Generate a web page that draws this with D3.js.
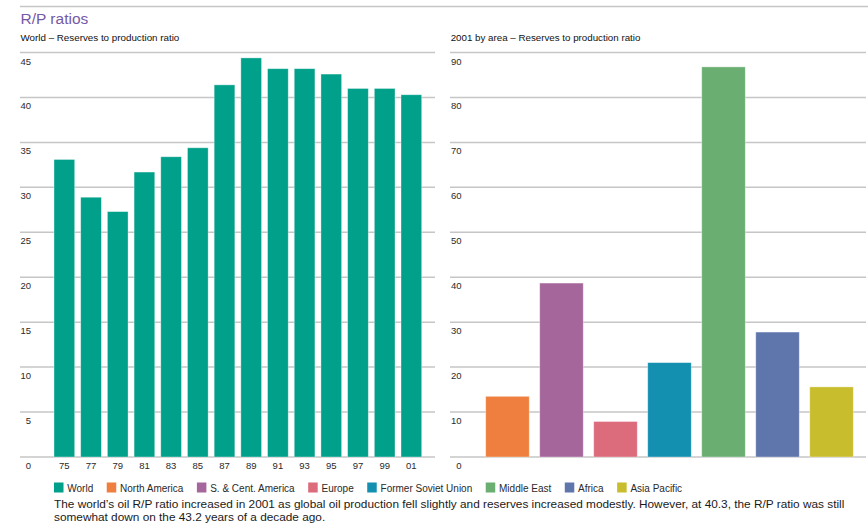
<!DOCTYPE html>
<html>
<head>
<meta charset="utf-8">
<script src="https://cdn.jsdelivr.net/npm/d3@7"></script>
<style>
  html, body { margin: 0; padding: 0; background: #fff; }
  svg { display: block; font-family: "Liberation Sans", Arial, Helvetica, sans-serif; }
</style>
</head>
<body>
<svg id="chart" width="868" height="524"></svg>
<script>
// ---------- data ----------
const years = ["75","77","79","81","83","85","87","89","91","93","95","97","99","01"];
const worldRP = [33.1, 28.9, 27.3, 31.7, 33.4, 34.4, 41.4, 44.4, 43.2, 43.2, 42.6, 41.0, 41.0, 40.3];

const areas = ["North America","S. & Cent. America","Europe","Former Soviet Union","Middle East","Africa","Asia Pacific"];
const areaRP = [13.5, 38.7, 7.9, 21.0, 86.8, 27.8, 15.6];

const worldTicks = [0,5,10,15,20,25,30,35,40,45];
const areaTicks = [0,10,20,30,40,50,60,70,80,90];

const legendNames = ["World","North America","S. & Cent. America","Europe","Former Soviet Union","Middle East","Africa","Asia Pacific"];
const legendColors = ["#00a08a","#ef7f3e","#a5669b","#dc6b7c","#138fb0","#6aae72","#5f76ad","#c8bd2c"];

const titleText = "R/P ratios";
const leftSubtitle = "World \u2013 Reserves to production ratio";
const rightSubtitle = "2001 by area \u2013 Reserves to production ratio";
const captionLines = [
  "The world\u2019s oil R/P ratio increased in 2001 as global oil production fell slightly and reserves increased modestly. However, at 40.3, the R/P ratio was still",
  "somewhat down on the 43.2 years of a decade ago."
];

// ---------- layout ----------
const svg = d3.select("#chart");
const gridColor = "#c6c6c6";
const textColor = "#2a2a2a";
const y0 = 457, yTop = 52.5;

// top rule
svg.append("line").attr("x1", 20).attr("x2", 868).attr("y1", 6.5).attr("y2", 6.5)
  .attr("stroke", gridColor).attr("stroke-width", 1.5);

// title
svg.append("text").attr("x", 20.5).attr("y", 24).text(titleText)
  .attr("font-size", 15.5).attr("fill", "#7559a6");

function fitText(sel, width, base) {
  sel.attr("font-size", base);
  const len = sel.node().getComputedTextLength();
  sel.attr("font-size", base * width / len);
}

fitText(svg.append("text").attr("x", 20.5).attr("y", 40.7).text(leftSubtitle)
  .attr("fill", "#111"), 159, 9);
fitText(svg.append("text").attr("x", 450.7).attr("y", 40.7).text(rightSubtitle)
  .attr("fill", "#111"), 190, 9);

// ---------- left chart ----------
const yL = d3.scaleLinear().domain([0, 45]).range([y0, yTop]);
const xL = d3.scaleBand().domain(years).range([54, 421.7]).paddingInner(0.225).paddingOuter(0);

const gL = svg.append("g");
gL.append("g").selectAll("line").data(worldTicks).join("line")
  .attr("x1", 20).attr("x2", 435)
  .attr("y1", d => yL(d)).attr("y2", d => yL(d))
  .attr("stroke", gridColor).attr("stroke-width", 1.5);

gL.append("g").selectAll("text").data(worldTicks).join("text")
  .attr("x", 31).attr("y", d => yL(d) + 12)
  .attr("text-anchor", "end").attr("font-size", 9.5).attr("fill", textColor)
  .text(d => d);

gL.append("g").selectAll("rect").data(worldRP).join("rect")
  .attr("x", (d, i) => xL(years[i]))
  .attr("width", xL.bandwidth())
  .attr("y", d => yL(d))
  .attr("height", d => y0 - yL(d))
  .attr("fill", legendColors[0])
  .attr("stroke", "#ffffff").attr("stroke-opacity", 0.45).attr("stroke-width", 0.8);

const xAxis = d3.axisBottom(xL).tickSize(0).tickPadding(0);
const ax = gL.append("g").attr("transform", `translate(0,${y0})`).call(xAxis);
ax.select(".domain").remove();
ax.selectAll("text").attr("dy", null).attr("y", 12)
  .attr("font-size", 9.5).attr("fill", textColor)
  .attr("font-family", "Liberation Sans, Arial, sans-serif");

// ---------- right chart ----------
const yR = d3.scaleLinear().domain([0, 90]).range([y0, yTop]);
const xR = d3.scaleBand().domain(areas).range([485.7, 853.3]).paddingInner(0.194).paddingOuter(0);

const gR = svg.append("g");
gR.append("g").selectAll("line").data(areaTicks).join("line")
  .attr("x1", 450).attr("x2", 866)
  .attr("y1", d => yR(d)).attr("y2", d => yR(d))
  .attr("stroke", gridColor).attr("stroke-width", 1.5);

gR.append("g").selectAll("text").data(areaTicks).join("text")
  .attr("x", 461.5).attr("y", d => yR(d) + 12)
  .attr("text-anchor", "end").attr("font-size", 9.5).attr("fill", textColor)
  .text(d => d);

gR.append("g").selectAll("rect").data(areaRP).join("rect")
  .attr("x", (d, i) => xR(areas[i]))
  .attr("width", xR.bandwidth())
  .attr("y", d => yR(d))
  .attr("height", d => y0 - yR(d))
  .attr("fill", (d, i) => legendColors[i + 1])
  .attr("stroke", "#ffffff").attr("stroke-opacity", 0.45).attr("stroke-width", 0.8);

// ---------- legend ----------
const leg = svg.append("g");
let lx = 54;
legendNames.forEach((name, i) => {
  leg.append("rect").attr("x", lx).attr("y", 482.5).attr("width", 9.5).attr("height", 10)
    .attr("fill", legendColors[i]);
  const t = leg.append("text").attr("x", lx + 13.3).attr("y", 491.7)
    .attr("font-size", 10).attr("fill", textColor).text(name);
  lx += 13.3 + t.node().getComputedTextLength() + 13.5;
});

// ---------- caption ----------
const cap1 = svg.append("text").attr("x", 54).attr("y", 507.5).attr("fill", "#1a1a1a").text(captionLines[0]);
fitText(cap1, 791, 12);
const fs = +cap1.attr("font-size");
svg.append("text").attr("x", 54).attr("y", 521).attr("fill", "#1a1a1a")
  .attr("font-size", fs).text(captionLines[1]);
</script>
</body>
</html>
